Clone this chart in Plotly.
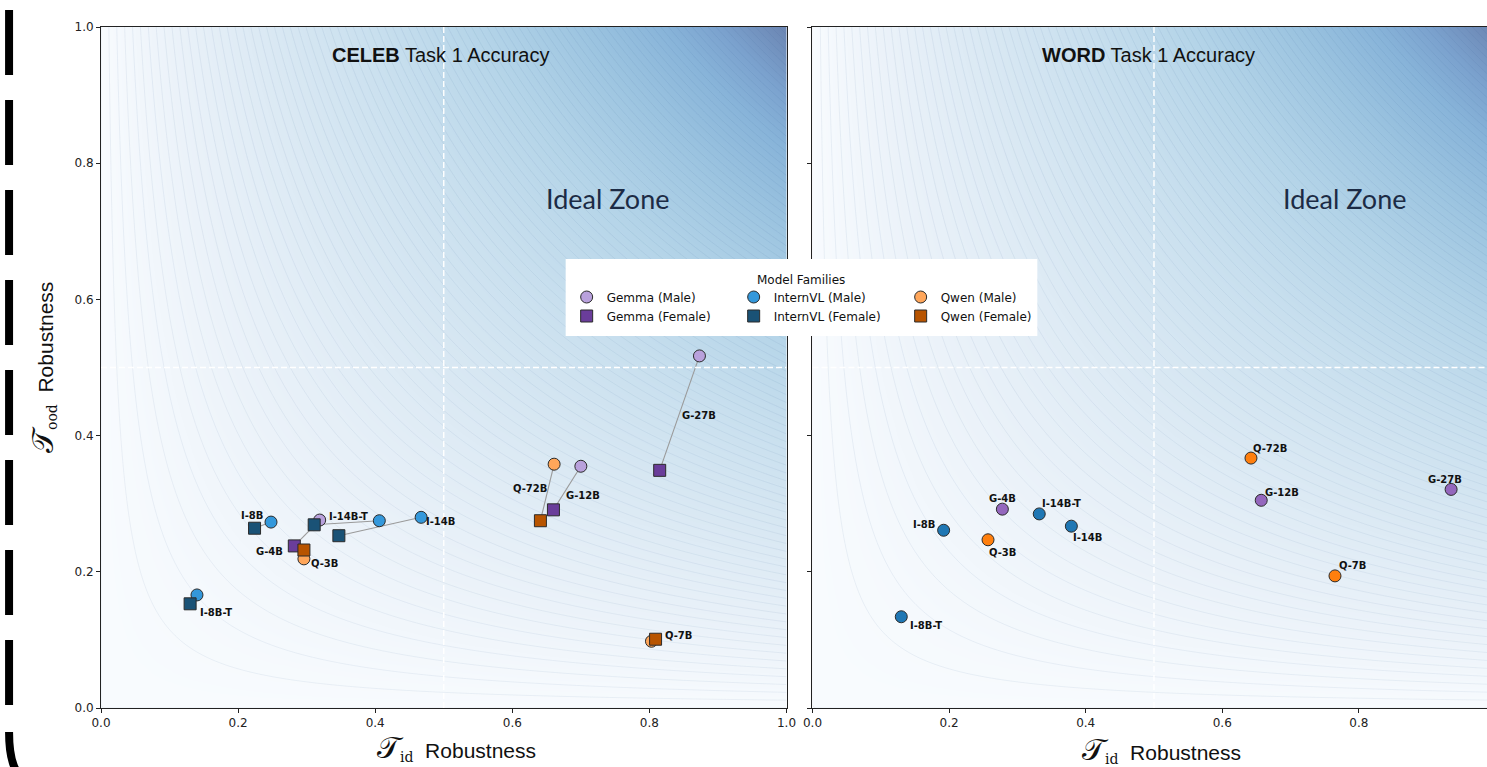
import numpy as np
import plotly.graph_objects as go

# ---------------- data ----------------
gemma_models = ["G-4B", "G-12B", "G-27B"]
intern_models = ["I-8B", "I-8B-T", "I-14B", "I-14B-T"]
qwen_models = ["Q-3B", "Q-7B", "Q-72B"]

# CELEB task (left panel): male / female robustness
celeb_gemma_male_x = [0.319, 0.700, 0.873]
celeb_gemma_male_y = [0.276, 0.355, 0.517]
celeb_gemma_female_x = [0.282, 0.660, 0.815]
celeb_gemma_female_y = [0.238, 0.291, 0.349]

celeb_intern_male_x = [0.248, 0.140, 0.467, 0.406]
celeb_intern_male_y = [0.273, 0.166, 0.280, 0.275]
celeb_intern_female_x = [0.224, 0.130, 0.347, 0.311]
celeb_intern_female_y = [0.264, 0.153, 0.253, 0.269]

celeb_qwen_male_x = [0.296, 0.803, 0.661]
celeb_qwen_male_y = [0.219, 0.098, 0.358]
celeb_qwen_female_x = [0.296, 0.809, 0.641]
celeb_qwen_female_y = [0.232, 0.101, 0.275]

# WORD task (right panel)
word_gemma_x = [0.278, 0.657, 0.935]
word_gemma_y = [0.292, 0.305, 0.321]
word_intern_x = [0.192, 0.130, 0.379, 0.332]
word_intern_y = [0.261, 0.134, 0.267, 0.285]
word_qwen_x = [0.257, 0.765, 0.642]
word_qwen_y = [0.247, 0.194, 0.367]

tick_vals = [0.0, 0.2, 0.4, 0.6, 0.8, 1.0]
tick_text = ["0.0", "0.2", "0.4", "0.6", "0.8", "1.0"]

# ---------------- styling ----------------
# the page is captured slightly compressed horizontally; lay out on a 1497-wide canvas
REF_W = 1487
W, H = 1497, 767
S = W / REF_W
ML, MR, MT, MB = 100 * S, 0, 27, 59
PW = W - ML - MR
PH = H - MT - MB


def pxx(px):
    return (px * S - ML) / PW


def pxy(py):
    return (H - MB - py) / PH


C = dict(
    gm="#b9a1dc", gf="#6a3d9a",
    im="#3498db", if_="#1a5276",
    qm="#ffa65a", qf="#b85400",
    g2="#9467bd", i2="#1f77b4", q2="#ff7f0e",
)

# label offsets in pixels (dx right, dy down) relative to the male marker
celeb_lab_off = {
    "G-4B": (-50, 31), "G-12B": (2, 29), "G-27B": (0, 60),
    "I-8B": (-19, -7), "I-8B-T": (19, 18), "I-14B": (19, 4), "I-14B-T": (-31, -4),
    "Q-3B": (20, 5), "Q-7B": (27, -6), "Q-72B": (-24, 24),
}
word_lab_off = {
    "G-4B": (0, -11), "G-12B": (21, -8), "G-27B": (-6, -10),
    "I-8B": (-19, -6), "I-8B-T": (25, 9), "I-14B": (16, 11), "I-14B-T": (22, -10),
    "Q-3B": (14, 13), "Q-7B": (17, -10), "Q-72B": (19, -10),
}

fig = go.Figure()

# background gradient (x*y contours)
grid = np.linspace(0, 1, 241)
zz = np.outer(grid, grid)
bg_scale = [
    [0.0, "#f8fbfe"], [0.1, "#ebf2f9"], [0.25, "#d9e8f3"], [0.4, "#c8dfee"],
    [0.55, "#b4d4e8"], [0.7, "#9cc4e0"], [0.82, "#88b4d9"], [0.9, "#7ba2ce"],
    [1.0, "#6b85b2"],
]
for xa, ya in (("x", "y"), ("x2", "y2")):
    fig.add_trace(go.Contour(
        x=grid, y=grid, z=zz, colorscale=bg_scale, showscale=False,
        zmin=0, zmax=1,
        contours=dict(start=0, end=1, size=0.0115, coloring="heatmap"),
        line=dict(width=0.6, color="rgba(60,100,150,0.13)"),
        hoverinfo="skip", xaxis=xa, yaxis=ya, showlegend=False,
    ))

# connector lines male <-> female (left)
lx, ly = [], []
for mx, my, fx, fy in (
    (celeb_gemma_male_x, celeb_gemma_male_y, celeb_gemma_female_x, celeb_gemma_female_y),
    (celeb_intern_male_x, celeb_intern_male_y, celeb_intern_female_x, celeb_intern_female_y),
    (celeb_qwen_male_x, celeb_qwen_male_y, celeb_qwen_female_x, celeb_qwen_female_y),
):
    for a, b, c, d in zip(mx, my, fx, fy):
        lx += [a, c, None]
        ly += [b, d, None]
fig.add_trace(go.Scatter(x=lx, y=ly, mode="lines", line=dict(color="#9a9a9a", width=1.1),
                         hoverinfo="skip", showlegend=False, xaxis="x", yaxis="y"))

mline = dict(color="#2b2b2b", width=1)
# males (legend row 1)
for name, xs, ys, col, mods in (
    ("Gemma (Male)", celeb_gemma_male_x, celeb_gemma_male_y, C["gm"], gemma_models),
    ("InternVL (Male)", celeb_intern_male_x, celeb_intern_male_y, C["im"], intern_models),
    ("Qwen (Male)", celeb_qwen_male_x, celeb_qwen_male_y, C["qm"], qwen_models),
):
    fig.add_trace(go.Scatter(x=xs, y=ys, mode="markers", name=name, text=mods,
                             marker=dict(symbol="circle", size=12, color=col, line=mline),
                             legend="legend", xaxis="x", yaxis="y"))
# females (legend row 2)
for name, xs, ys, col, mods in (
    ("Gemma (Female)", celeb_gemma_female_x, celeb_gemma_female_y, C["gf"], gemma_models),
    ("InternVL (Female)", celeb_intern_female_x, celeb_intern_female_y, C["if_"], intern_models),
    ("Qwen (Female)", celeb_qwen_female_x, celeb_qwen_female_y, C["qf"], qwen_models),
):
    fig.add_trace(go.Scatter(x=xs, y=ys, mode="markers", name=name, text=mods,
                             marker=dict(symbol="square", size=12, color=col, line=mline),
                             legend="legend2", xaxis="x", yaxis="y"))

# right panel
for xs, ys, col, mods in (
    (word_gemma_x, word_gemma_y, C["g2"], gemma_models),
    (word_intern_x, word_intern_y, C["i2"], intern_models),
    (word_qwen_x, word_qwen_y, C["q2"], qwen_models),
):
    fig.add_trace(go.Scatter(x=xs, y=ys, mode="markers", text=mods, showlegend=False,
                             marker=dict(symbol="circle", size=12, color=col, line=mline),
                             xaxis="x2", yaxis="y2"))

annotations = []
lab_font = dict(family="DejaVu Sans", size=10, color="#111")
for mods, xs, ys in ((gemma_models, celeb_gemma_male_x, celeb_gemma_male_y),
                     (intern_models, celeb_intern_male_x, celeb_intern_male_y),
                     (qwen_models, celeb_qwen_male_x, celeb_qwen_male_y)):
    for m, xv, yv in zip(mods, xs, ys):
        dx, dy = celeb_lab_off[m]
        annotations.append(dict(x=xv, y=yv, xref="x", yref="y", text=f"<b>{m}</b>",
                                xanchor="center", yanchor="middle",
                                showarrow=False, xshift=dx * S, yshift=-dy, font=lab_font))
for mods, xs, ys in ((gemma_models, word_gemma_x, word_gemma_y),
                     (intern_models, word_intern_x, word_intern_y),
                     (qwen_models, word_qwen_x, word_qwen_y)):
    for m, xv, yv in zip(mods, xs, ys):
        dx, dy = word_lab_off[m]
        annotations.append(dict(x=xv, y=yv, xref="x2", yref="y2", text=f"<b>{m}</b>",
                                xanchor="center", yanchor="middle",
                                showarrow=False, xshift=dx * S, yshift=-dy, font=lab_font))


def ptext(px, py, text, font, **kw):
    d = dict(x=pxx(px), y=pxy(py), xref="paper", yref="paper", showarrow=False,
             xanchor="center", yanchor="middle", text=text, font=font)
    d.update(kw)
    return d


title_font = dict(family="Liberation Sans", size=20, color="#111")
zone_font = dict(family="Lato", size=27, color="#1c2b45")
annotations += [
    ptext(440, 55, "<b>CELEB</b> Task 1 Accuracy", title_font),
    ptext(1148, 55, "<b>WORD</b> Task 1 Accuracy", title_font),
    ptext(607, 199, "Ideal Zone", zone_font),
    ptext(1344, 199, "Ideal Zone", zone_font),
    ptext(801, 280, "Model Families", dict(family="DejaVu Sans", size=12, color="#111")),
]
ser = "font-family:'DejaVu Serif','Noto Sans',serif"
xlab = (f"<span style=\"{ser};font-size:30px\">𝒯</span>"
        f"<span style=\"{ser};font-size:20px\"><sub>id</sub></span>  Robustness")
ylab = (f"<span style=\"{ser};font-size:30px\">𝒯</span>"
        f"<span style=\"{ser};font-size:20px\"><sub>ood</sub></span>  Robustness")
ax_font = dict(family="Liberation Sans", size=21, color="#111")
annotations += [
    ptext(456, 747, xlab, ax_font),
    ptext(1161, 749, xlab, ax_font),
    ptext(41, 368, ylab, ax_font, textangle=-90),
]

shapes = []
dash_line = dict(color="white", width=1.4, dash="6px,3px")
for xr, yr in (("x", "y"), ("x2", "y2")):
    shapes.append(dict(type="line", xref=xr, yref=yr, x0=0.5, x1=0.5, y0=0, y1=1, line=dash_line, layer="above"))
    shapes.append(dict(type="line", xref=xr, yref=yr, x0=0, x1=1, y0=0.5, y1=0.5, line=dash_line, layer="above"))
# legend box
shapes.append(dict(type="rect", xref="paper", yref="paper", x0=pxx(565), x1=pxx(1037),
                   y0=pxy(336), y1=pxy(259), fillcolor="white", line=dict(width=0), layer="above"))
# decorative dashed border remnants at left edge
for y0, y1 in ((10, 75), (100, 165), (190, 255), (280, 345), (370, 435), (460, 525), (550, 615), (640, 705)):
    shapes.append(dict(type="rect", xref="paper", yref="paper", x0=pxx(4), x1=pxx(12),
                       y0=pxy(y1), y1=pxy(y0), fillcolor="black", line=dict(width=0), layer="above"))
shapes.append(dict(type="path", xref="paper", yref="paper",
                   path=f"M {pxx(8)},{pxy(732)} Q {pxx(8)},{pxy(760)} {pxx(16)},{pxy(772)}",
                   line=dict(color="black", width=8), layer="above"))

axis_common = dict(showgrid=False, zeroline=False, showline=True, linecolor="#222", linewidth=1,
                   ticks="outside", ticklen=4, tickcolor="#222", tickwidth=1,
                   tickfont=dict(family="DejaVu Sans", size=12, color="#222"))

leg_common = dict(orientation="h", xanchor="left", yanchor="middle",
                  entrywidth=122, entrywidthmode="pixels", bgcolor="rgba(0,0,0,0)",
                  font=dict(family="DejaVu Sans", size=12, color="#111"), itemclick=False)

fig.update_layout(
    width=W, height=H, autosize=False, margin=dict(l=ML, r=MR, t=MT, b=MB),
    paper_bgcolor="white", plot_bgcolor="white",
    font=dict(family="DejaVu Sans", color="#111"),
    xaxis=dict(domain=[0, pxx(786)], range=[0, 1], tickvals=tick_vals, ticktext=tick_text,
               mirror=True, anchor="y", **axis_common),
    yaxis=dict(domain=[0, 1], range=[0, 1], tickvals=tick_vals, ticktext=tick_text,
               mirror=True, anchor="x", **axis_common),
    xaxis2=dict(domain=[pxx(812), 1], range=[0, (REF_W - 812) / 683.5],
                tickvals=tick_vals[:-1], ticktext=tick_text[:-1], mirror=True, anchor="y2", **axis_common),
    yaxis2=dict(domain=[0, 1], range=[0, 1], tickvals=tick_vals, showticklabels=False,
                anchor="x2", **axis_common),
    legend=dict(x=pxx(566), y=pxy(297), **leg_common),
    legend2=dict(x=pxx(566), y=pxy(316), **leg_common),
    annotations=annotations,
    shapes=shapes,
)

fig.write_html(
    "out.html",
    config={"displayModeBar": False, "responsive": False},
    post_script="document.body.style.margin='0';document.body.style.overflow='hidden';",
)
